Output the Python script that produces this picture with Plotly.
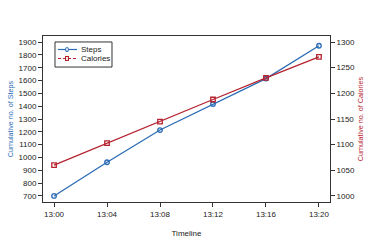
import plotly.graph_objects as go

times = ["2020-01-01 13:00", "2020-01-01 13:04", "2020-01-01 13:08",
         "2020-01-01 13:12", "2020-01-01 13:16", "2020-01-01 13:20"]
steps = [700, 963, 1214, 1417, 1615, 1871]
calories = [1060, 1103, 1145, 1188, 1230, 1271]
steps_ticks = list(range(700, 2000, 100))
cal_ticks = list(range(1000, 1350, 50))
series_names = ["Steps", "Calories"]

blue = "#2b6cb5"
red = "#b5222e"
font = "Liberation Sans, Arial, sans-serif"

fig = go.Figure()
fig.add_trace(go.Scatter(x=times, y=steps, name=series_names[0], mode="lines+markers",
                         line=dict(color=blue, width=1.3),
                         marker=dict(symbol="circle-open", size=4.5, color=blue, line=dict(width=1.3))))
fig.add_trace(go.Scatter(x=times, y=calories, name=series_names[1], mode="lines+markers", yaxis="y2",
                         line=dict(color=red, width=1.3),
                         marker=dict(symbol="square-open", size=4.5, color=red, line=dict(width=1.3))))

# Manual compact legend (paper coords = plot area)
shapes = [
    dict(type="rect", xref="paper", yref="paper", x0=0.0418, x1=0.2404, y0=0.813, y1=0.964,
         line=dict(color="#333", width=1), fillcolor="white", layer="above"),
    dict(type="line", xref="paper", yref="paper", x0=0.0523, x1=0.1185, y0=0.9187, y1=0.9187,
         line=dict(color=blue, width=1.2), layer="above"),
    dict(type="circle", xref="paper", yref="paper", x0=0.0786, x1=0.0886, y0=0.9067, y1=0.9307,
         line=dict(color=blue, width=1.1), fillcolor="white", layer="above"),
    dict(type="line", xref="paper", yref="paper", x0=0.0523, x1=0.1185, y0=0.8645, y1=0.8645,
         line=dict(color=red, width=1.2, dash="3px,2px"), layer="above"),
    dict(type="rect", xref="paper", yref="paper", x0=0.0786, x1=0.0886, y0=0.8525, y1=0.8765,
         line=dict(color=red, width=1.1), fillcolor="white", layer="above"),
]
annotations = [
    dict(xref="paper", yref="paper", x=0.125, y=0.9187, text=series_names[0], showarrow=False,
         xanchor="left", yanchor="middle", font=dict(size=8, color="#222")),
    dict(xref="paper", yref="paper", x=0.125, y=0.8645, text=series_names[1], showarrow=False,
         xanchor="left", yanchor="middle", font=dict(size=8, color="#222")),
]

fig.update_layout(
    width=374, height=248,
    margin=dict(l=43, r=44, t=36, b=46),
    paper_bgcolor="white", plot_bgcolor="white",
    font=dict(family=font, size=8, color="#222"),
    showlegend=False,
    shapes=shapes, annotations=annotations,
    xaxis=dict(type="date", range=["2020-01-01 12:59:10", "2020-01-01 13:20:50"],
               tickformat="%H:%M", dtick=240000, tick0="2020-01-01 13:00",
               ticks="outside", ticklen=4, tickcolor="#333", automargin=False,
               showline=True, linecolor="#333", linewidth=1, mirror=True,
               showgrid=False, zeroline=False,
               title=dict(text="Timeline", font=dict(size=8), standoff=12)),
    yaxis=dict(range=[653, 1947], tickvals=steps_ticks, automargin=False,
               ticks="outside", ticklen=4, tickcolor="#333",
               showline=True, linecolor="#333", linewidth=1,
               showgrid=False, zeroline=False,
               title=dict(text="Cumulative no. of Steps", font=dict(size=7.2, color=blue), standoff=4)),
    yaxis2=dict(overlaying="y", side="right", range=[988.3, 1311.7], tickvals=cal_ticks, automargin=False,
                ticks="outside", ticklen=4, tickcolor="#333",
                showline=True, linecolor="#333", linewidth=1,
                showgrid=False, zeroline=False,
                title=dict(text="Cumulative no. of Calories", font=dict(size=7.2, color=red), standoff=4)),
)

fig.write_html("out.html", config={"displayModeBar": False},
               post_script="document.body.style.margin='0';")
